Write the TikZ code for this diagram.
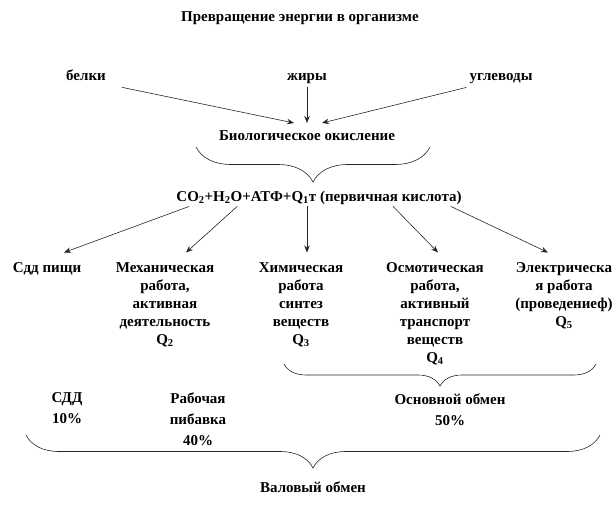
\documentclass[tikz,border=0pt]{standalone}
\usepackage{fontspec}
\setmainfont{Liberation Serif}
\usetikzlibrary{arrows.meta,decorations.pathreplacing}

\begin{document}
\begin{tikzpicture}[x=1pt,y=-1pt,
  txt/.style={inner sep=0pt,anchor=base,align=center,font=\bfseries\fontsize{15}{18}\selectfont},
  col/.style={txt,anchor=north},
  low/.style={txt,anchor=north,font=\bfseries\fontsize{15}{21}\selectfont},
  arr/.style={draw=black!85,line width=0.6pt,-{Stealth[length=7pt,width=5.5pt]}},
  brc/.style={draw=black!85,line width=0.6pt,decorate,decoration={brace,mirror,amplitude=#1}}]
\useasboundingbox (0,0) rectangle (616,508);

% Title
\node[txt] (title) at (300,22) {Превращение энергии в организме};

% Nutrients
\node[txt] (belki) at (86,81) {белки};
\node[txt] (zhiry) at (307,81) {жиры};
\node[txt] (ugl) at (501,81) {углеводы};
\node[txt] (bio) at (307,141) {Биологическое окисление};
\node[txt] (prod) at (319,201) {CO\textsubscript{2}+H\textsubscript{2}O+АТФ+Q\textsubscript{1}т (первичная кислота)};

% Kinds of work
\node[col] (sdd) at (47,262.5) {Сдд пищи};
\node[col] (mech) at (165,262.5) {Механическая\\работа,\\активная\\деятельность\\Q\textsubscript{2}};
\node[col] (chem) at (301,262.5) {Химическая\\работа\\синтез\\веществ\\Q\textsubscript{3}};
\node[col] (osm) at (435,262.5) {Осмотическая\\работа,\\активный\\транспорт\\веществ\\Q\textsubscript{4}};
\node[col] (elec) at (564,262.5) {Электрическа\\я работа\\(проведениеф)\\Q\textsubscript{5}};

% Shares
\node[low] (sddshare) at (67,392.5) {СДД\\10\%};
\node[low] (work) at (198,392.5) {Рабочая\\пибавка\\40\%};
\node[low] (basal) at (450,393.5) {Основной обмен\\50\%};
\node[txt] (gross) at (313,492) {Валовый обмен};

% Arrows
\draw[arr] ([xshift=16pt,yshift=-6pt]belki.south east) -- ([xshift=-13pt,yshift=8pt]bio.north);
\draw[arr] ([yshift=-3pt]zhiry.south) -- ([yshift=8pt]bio.north);
\draw[arr] ([xshift=-3pt,yshift=-3pt]ugl.south west) -- ([xshift=15pt,yshift=8pt]bio.north);
\draw[arr] ([xshift=13pt,yshift=-2pt]prod.south west) -- ([xshift=17pt,yshift=10pt]sdd.north);
\draw[arr] ([xshift=61pt,yshift=-2pt]prod.south west) -- ([xshift=21pt,yshift=10pt]mech.north);
\draw[arr] ([xshift=-12pt,yshift=-2pt]prod.south) -- ([xshift=6pt,yshift=10pt]chem.north);
\draw[arr] ([xshift=74pt,yshift=-2pt]prod.south) -- ([xshift=3pt,yshift=10pt]osm.north);
\draw[arr] ([xshift=-11pt,yshift=-2pt]prod.south east) -- ([xshift=-16pt,yshift=10pt]elec.north);

% Braces
\draw[brc=35pt] (196,147) -- (430,147);
\draw[brc=22pt] (284,364) -- (596,364);
\draw[brc=33pt] (26,435) -- (600,435);
\end{tikzpicture}
\end{document}
